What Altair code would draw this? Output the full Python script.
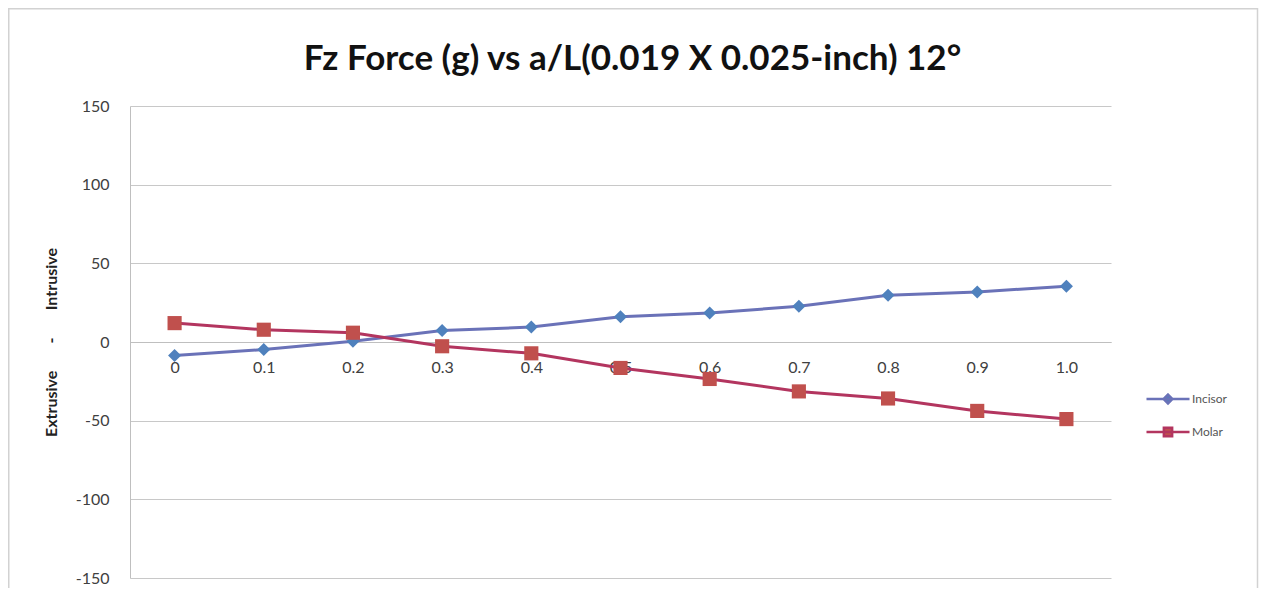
import altair as alt
import pandas as pd

categories = ["0", "0.1", "0.2", "0.3", "0.4", "0.5", "0.6", "0.7", "0.8", "0.9", "1.0"]
incisor = [-8.6, -4.8, 0.5, 7.3, 9.5, 16.0, 18.4, 22.7, 29.7, 31.8, 35.5]
molar = [12.0, 7.8, 5.9, -2.7, -7.2, -16.5, -23.5, -31.4, -35.9, -43.8, -49.0]
series = ["Incisor", "Molar"]
line_colors = ["#6A72B8", "#B3355F"]
marker_colors = ["#4F81BD", "#C0504D"]
legend_paths = [
    "M-1.3,0H1.3M0,-0.27L0.27,0L0,0.27L-0.27,0Z",
    "M-1.3,0H1.3M-0.25,-0.25H0.25V0.25H-0.25Z",
]

rows = []
for i, c in enumerate(categories):
    rows.append({"aL": c, "series": "Incisor", "force": incisor[i], "order": i})
    rows.append({"aL": c, "series": "Molar", "force": molar[i], "order": i})
df = pd.DataFrame(rows)

FONT = "Lato"
W, H = 981, 472
PAD_L, PAD_T, PAD_R, PAD_B = 122, 98, 148, 10
NB = "\u00a0" * 7

x_enc = alt.X(
    "aL:N",
    sort=categories,
    scale=alt.Scale(type="point", padding=0.5),
    axis=alt.Axis(
        title=None, labelAngle=0, offset=-H / 2, ticks=False, domain=True,
        domainColor="#BFBFBF", labelFont=FONT, labelFontSize=16,
        labelColor="#404040", labelPadding=17, grid=False,
    ),
)
y_enc = alt.Y(
    "force:Q",
    scale=alt.Scale(domain=[-150, 150], nice=False, zero=False),
    axis=alt.Axis(
        values=[-150, -100, -50, 0, 50, 100, 150],
        labelExpr="toString(datum.value)",
        title="Extrusive" + NB + "-" + NB + "Intrusive",
        titleFont=FONT, titleFontSize=16, titleFontWeight="bold", titleColor="#222222",
        titlePadding=16, labelFont=FONT, labelFontSize=16, labelColor="#404040",
        labelPadding=21, ticks=False, domain=True, domainColor="#BFBFBF",
        grid=True, gridColor="#C8C8C8", gridWidth=1,
    ),
)

inc = df[df.series == "Incisor"]
mol = df[df.series == "Molar"]

# decorative chart-area frame (Excel style), drawn in the padding area
frame = alt.Chart(pd.DataFrame({"k": [0]})).mark_rect(
    fill=None, stroke="#D2D2D2", strokeWidth=1.5
).encode(
    x=alt.value(-PAD_L + 0.75), x2=alt.value(W + PAD_R - 1.5),
    y=alt.value(-PAD_T + 0.75), y2=alt.value(H + PAD_B + 20),
)

line_i = alt.Chart(inc).mark_line(strokeWidth=3, color=line_colors[0]).encode(
    x=x_enc, y=y_enc, order="order:Q")
line_m = alt.Chart(mol).mark_line(strokeWidth=3, color=line_colors[1]).encode(
    x=x_enc, y=y_enc, order="order:Q")

points_i = alt.Chart(inc).mark_point(
    shape="diamond", filled=True, size=170, opacity=1, color=marker_colors[0]
).encode(x=x_enc, y=y_enc)
points_m = alt.Chart(mol).mark_point(
    shape="square", filled=True, size=200, opacity=1, color=marker_colors[1]
).encode(x=x_enc, y=y_enc)

leg = alt.Legend(
    title=None, orient="none", legendX=1020, legendY=275,
    symbolSize=1095, symbolStrokeWidth=2.5, symbolOpacity=1, labelOffset=6,
    labelFont=FONT, labelFontSize=12, labelColor="#555555", rowPadding=5,
)
legend_layer = alt.Chart(df).mark_point(opacity=0).encode(
    x=x_enc, y=y_enc,
    fill=alt.Fill("series:N", scale=alt.Scale(domain=series, range=marker_colors), legend=leg),
    stroke=alt.Stroke("series:N", scale=alt.Scale(domain=series, range=line_colors), legend=leg),
    shape=alt.Shape("series:N", scale=alt.Scale(domain=series, range=legend_paths), legend=leg),
)

chart = alt.layer(frame, line_i, line_m, points_i, points_m, legend_layer).properties(
    width=W,
    height=H,
    background="white",
    title=alt.TitleParams(
        "Fz Force (g) vs a/L(0.019 X 0.025-inch) 12°",
        font=FONT, fontSize=35, fontWeight="bold", color="#111111",
        offset=-69, anchor="middle", frame="group", dx=12,
    ),
    autosize=alt.AutoSizeParams(type="none"),
    padding={"left": PAD_L, "top": PAD_T, "right": PAD_R, "bottom": PAD_B},
).configure_view(stroke=None)

chart.save("out.html", embed_options={"renderer": "svg", "actions": False})
